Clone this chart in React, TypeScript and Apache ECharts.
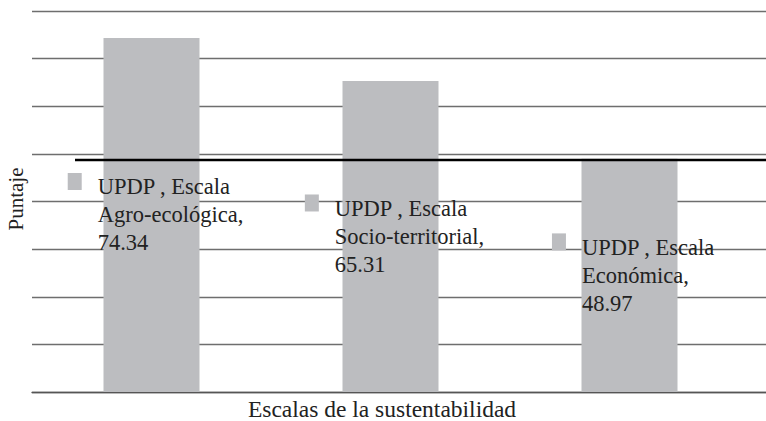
import React, { useEffect, useRef } from "react";
import * as echarts from "echarts";

const seriesName = "UPDP";
const categories = ["Agro-ecológica", "Socio-territorial", "Económica"];
const values = [74.34, 65.31, 48.97];
const yMax = 80;
const yInterval = 10;
const xTitle = "Escalas de la sustentabilidad";
const yTitle = "Puntaje";

const FONT = "Liberation Serif";

export default function App() {
  const ref = useRef<HTMLDivElement>(null);
  useEffect(() => {
    if (!ref.current) return;
    const chart = echarts.init(ref.current, undefined, { renderer: "svg" });
    chart.setOption({
      animation: false,
      backgroundColor: "#ffffff",
      textStyle: { fontFamily: FONT },
      grid: [
        { left: 32, right: 17, top: 11, bottom: 29, containLabel: false },
        { left: 32, right: 0, top: 11, bottom: 29, containLabel: false },
      ],
      xAxis: [
        {
          type: "category",
          gridIndex: 0,
          data: categories,
          boundaryGap: true,
          axisLine: { show: false },
          axisTick: { show: false },
          axisLabel: { show: false },
          splitLine: { show: false },
        },
        {
          type: "value",
          gridIndex: 1,
          min: 0,
          max: 1,
          axisLine: { show: true, onZero: false, lineStyle: { color: "#555", width: 1.3 } },
          axisTick: { show: false },
          axisLabel: { show: false },
          splitLine: { show: false },
        },
      ],
      yAxis: [
        {
          type: "value",
          gridIndex: 0,
          min: 0,
          max: yMax,
          interval: yInterval,
          axisLine: { show: false },
          axisTick: { show: false },
          axisLabel: { show: false },
          splitLine: { show: false },
        },
        {
          type: "value",
          gridIndex: 1,
          min: 0,
          max: yMax,
          interval: yInterval,
          axisLine: { show: false },
          axisTick: { show: false },
          axisLabel: { show: false },
          splitLine: { show: true, lineStyle: { color: "#6e6e6e", width: 1.3 } },
        },
      ],
      graphic: [
        {
          type: "line",
          shape: { x1: 75, y1: 160, x2: 766, y2: 160 },
          style: { stroke: "#000", lineWidth: 2.5 },
          z: 10,
        },
        {
          type: "text",
          x: 382,
          y: 409,
          z: 10,
          style: {
            text: xTitle,
            fontFamily: FONT,
            fontSize: 23.5,
            fill: "#222",
            textAlign: "center",
            textVerticalAlign: "middle",
          },
        },
        {
          type: "text",
          x: 16,
          y: 199,
          rotation: Math.PI / 2,
          z: 10,
          style: {
            text: yTitle,
            fontFamily: FONT,
            fontSize: 21,
            fill: "#222",
            textAlign: "center",
            textVerticalAlign: "middle",
          },
        },
      ],
      series: [
        {
          name: seriesName,
          type: "bar",
          xAxisIndex: 0,
          yAxisIndex: 0,
          barWidth: 96,
          z: 2,
          itemStyle: { color: "#bcbdc0" },
          data: values,
          label: {
            show: true,
            position: "inside",
            align: "center",
            offset: [4, 0],
            fontFamily: FONT,
            formatter: (p: any) =>
              `{m| }{g| }{t|${p.seriesName} , Escala}\n{s| }{t|${p.name},}\n{s| }{t|${p.value}}`,
            rich: {
              m: { width: 14, height: 13, backgroundColor: "#bcbdc0", align: "left", fontSize: 10, verticalAlign: "top", padding: [0, 0, 4, 0] },
              g: { width: 16, align: "left", fontSize: 10 },
              s: { width: 30, align: "left", fontSize: 10 },
              t: { fontFamily: FONT, fontSize: 22.5, color: "#222", lineHeight: 28, align: "left" },
            },
          },
        },
      ],
    });
    return () => chart.dispose();
  }, []);
  return <div ref={ref} style={{ width: 766, height: 421, position: "absolute", left: 0, top: 0 }} />;
}
